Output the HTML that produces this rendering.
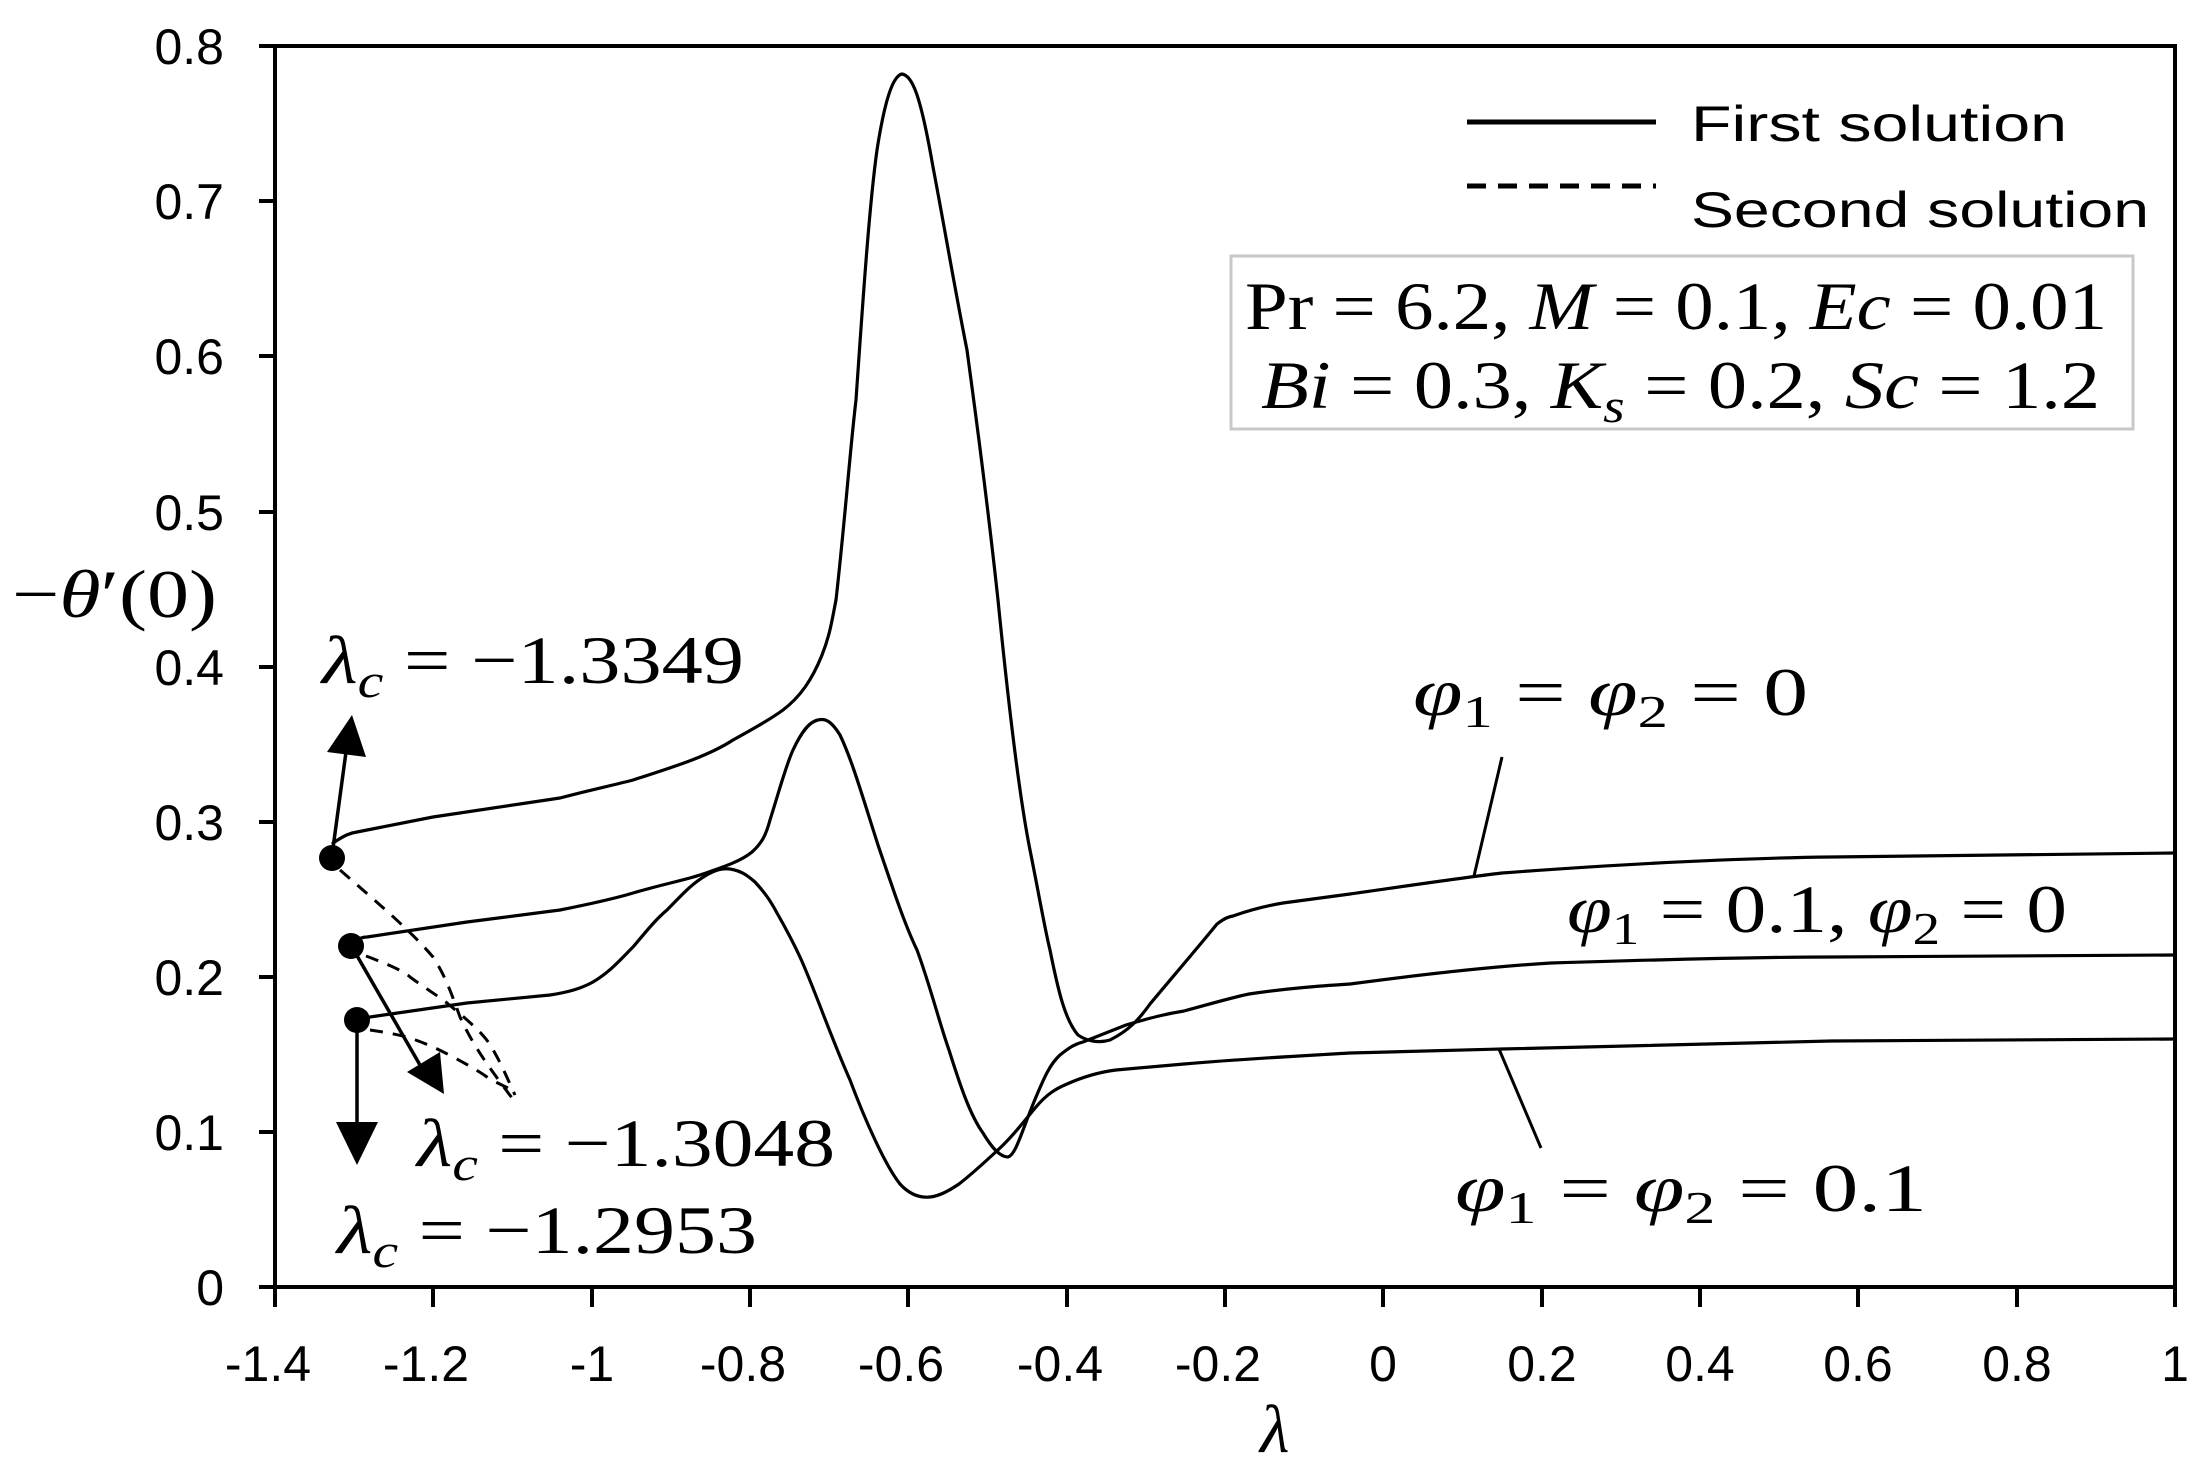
<!DOCTYPE html>
<html><head><meta charset="utf-8"><style>
html,body{margin:0;padding:0;background:#fff;}
svg{display:block;}
.t{font-family:"Liberation Sans",sans-serif;font-size:50px;fill:#000;}
.m{font-family:"Liberation Serif","DejaVu Serif",serif;font-size:68px;fill:#000;}
</style></head><body>
<svg width="2208" height="1479" viewBox="0 0 2208 1479" xmlns="http://www.w3.org/2000/svg">
<rect x="0" y="0" width="2208" height="1479" fill="#fff"/>
<rect x="275" y="46" width="1900" height="1241" fill="none" stroke="#000" stroke-width="4"/>
<g stroke="#000" stroke-width="4">
<line x1="259" y1="46" x2="275" y2="46"/><line x1="259" y1="201" x2="275" y2="201"/>
<line x1="259" y1="356" x2="275" y2="356"/><line x1="259" y1="512" x2="275" y2="512"/>
<line x1="259" y1="667" x2="275" y2="667"/><line x1="259" y1="822" x2="275" y2="822"/>
<line x1="259" y1="977" x2="275" y2="977"/><line x1="259" y1="1132" x2="275" y2="1132"/>
<line x1="259" y1="1287" x2="275" y2="1287"/>
</g>
<g class="t" text-anchor="end">
<text x="224" y="64">0.8</text><text x="224" y="219">0.7</text><text x="224" y="374">0.6</text>
<text x="224" y="530">0.5</text><text x="224" y="685">0.4</text><text x="224" y="840">0.3</text>
<text x="224" y="995">0.2</text><text x="224" y="1150">0.1</text><text x="224" y="1305">0</text>
</g>
<g stroke="#000" stroke-width="4">
<line x1="275" y1="1287" x2="275" y2="1307"/><line x1="433" y1="1287" x2="433" y2="1307"/>
<line x1="592" y1="1287" x2="592" y2="1307"/><line x1="750" y1="1287" x2="750" y2="1307"/>
<line x1="908" y1="1287" x2="908" y2="1307"/><line x1="1067" y1="1287" x2="1067" y2="1307"/>
<line x1="1225" y1="1287" x2="1225" y2="1307"/><line x1="1383" y1="1287" x2="1383" y2="1307"/>
<line x1="1542" y1="1287" x2="1542" y2="1307"/><line x1="1700" y1="1287" x2="1700" y2="1307"/>
<line x1="1858" y1="1287" x2="1858" y2="1307"/><line x1="2017" y1="1287" x2="2017" y2="1307"/>
<line x1="2175" y1="1287" x2="2175" y2="1307"/>
</g>
<g class="t" text-anchor="middle">
<text x="268" y="1381">-1.4</text><text x="426" y="1381">-1.2</text><text x="592" y="1381">-1</text>
<text x="743" y="1381">-0.8</text><text x="901" y="1381">-0.6</text><text x="1060" y="1381">-0.4</text>
<text x="1218" y="1381">-0.2</text><text x="1383" y="1381">0</text><text x="1542" y="1381">0.2</text>
<text x="1700" y="1381">0.4</text><text x="1858" y="1381">0.6</text><text x="2017" y="1381">0.8</text>
<text x="2175" y="1381">1</text>
</g>
<text class="m" x="1260" y="1452" font-style="italic">λ</text>
<text class="m" x="12" y="617" textLength="205" lengthAdjust="spacingAndGlyphs">−<tspan font-style="italic">θ</tspan>′(0)</text>

<g fill="none" stroke="#000" stroke-width="3.2" stroke-linejoin="round" stroke-linecap="round">
<path d="M333,843 C345,835 350,833 357,832 L433,817 L560,798 C590,790 610,786 633,780 C680,765 710,755 733,740 C760,725 772,718 783,710 C800,697 812,680 822,655 C830,635 832,620 836,600 C845,520 850,450 856,400 C864,283 870,200 877,150 C884,105 892,76 902,74 C912,76 920,92 933,167 C945,230 955,290 967,350 C975,410 985,480 998,600 C1010,720 1020,800 1030,850 C1040,900 1045,930 1050,950 C1058,990 1065,1020 1078,1035 C1088,1042 1100,1043 1110,1040 C1130,1030 1140,1018 1150,1004 C1170,980 1200,945 1217,924 C1225,918 1228,917 1233,916 C1250,910 1265,906 1283,903 L1350,894 C1420,884 1460,878 1502,873 C1650,862 1750,858 1831,857 L2175,853"/>
<path d="M351,943 C360,938 363,937 367,937 L467,922 L560,910 C600,902 620,897 633,893 C660,885 685,880 700,875 C720,868 740,862 752,852 C762,843 766,835 770,820 C778,795 786,765 793,750 C800,735 808,722 818,720 C826,718 832,722 840,735 C852,760 862,795 878,845 C895,895 905,925 917,950 C930,985 940,1025 949,1050 C960,1085 970,1115 983,1133 C992,1148 1000,1157 1008,1157 C1016,1155 1022,1130 1036,1097 C1044,1078 1050,1064 1060,1055 C1070,1047 1075,1044 1083,1042 L1126,1025 C1150,1018 1165,1014 1184,1011 C1210,1004 1230,998 1249,994 C1290,988 1320,986 1350,984 C1440,972 1500,966 1551,963 C1680,959 1760,957 1831,957 L2175,955"/>
<path d="M357,1020 C362,1018 365,1017 370,1017 L467,1003 L550,995 C570,992 582,988 593,982 C610,972 620,960 633,947 C645,933 655,920 667,910 C680,897 690,885 705,876 C715,870 722,868 730,869 C742,871 748,876 755,882 C765,893 770,900 777,913 C785,927 793,942 800,957 C815,990 830,1035 850,1080 C865,1120 885,1165 900,1184 C910,1195 920,1198 930,1197 C940,1196 950,1190 959,1184 C972,1174 985,1162 1000,1148 C1015,1134 1025,1120 1036,1107 C1046,1095 1055,1089 1067,1084 C1085,1076 1100,1072 1116,1070 L1184,1064 C1240,1059 1300,1056 1350,1053 C1420,1051 1460,1050 1502,1049 C1650,1045 1750,1042 1831,1041 L2175,1039"/>
</g>
<g fill="none" stroke="#000" stroke-width="3" stroke-dasharray="13,10">
<path d="M340,870 C380,905 410,930 433,957 C445,975 452,995 460,1017 C475,1050 495,1075 515,1102"/>
<path d="M366,956 C390,965 405,972 410,977 C425,988 438,996 447,1003 C470,1022 485,1035 492,1048 C502,1065 508,1080 515,1095"/>
<path d="M370,1030 C390,1033 400,1035 410,1038 C430,1045 440,1050 453,1057 C470,1066 480,1072 487,1077 C495,1082 502,1085 508,1088"/>
</g>
<g fill="#000">
<circle cx="332" cy="858" r="13"/>
<circle cx="351" cy="946" r="13"/>
<circle cx="357" cy="1020" r="13"/>
</g>
<g stroke="#000" stroke-width="3.5" fill="none">
<line x1="333" y1="848" x2="346" y2="752"/>
<line x1="356" y1="954" x2="420" y2="1065"/>
<line x1="357" y1="1030" x2="357" y2="1130"/>
</g>
<g fill="#000">
<polygon points="352,715 327,752 366,757"/>
<polygon points="444,1094 407,1072 440,1052"/>
<polygon points="357,1165 336,1122 378,1122"/>
</g>
<g class="m">
<text x="322" y="683" textLength="422" lengthAdjust="spacingAndGlyphs"><tspan font-style="italic">λ</tspan><tspan font-style="italic" font-size="48" dy="14">c</tspan><tspan dy="-14"> = −1.3349</tspan></text>
<text x="417" y="1166" textLength="418" lengthAdjust="spacingAndGlyphs"><tspan font-style="italic">λ</tspan><tspan font-style="italic" font-size="48" dy="14">c</tspan><tspan dy="-14"> = −1.3048</tspan></text>
<text x="337" y="1253" textLength="420" lengthAdjust="spacingAndGlyphs"><tspan font-style="italic">λ</tspan><tspan font-style="italic" font-size="48" dy="14">c</tspan><tspan dy="-14"> = −1.2953</tspan></text>
</g>
<g class="m">
<text x="1413" y="715" textLength="395" lengthAdjust="spacingAndGlyphs"><tspan font-style="italic">φ</tspan><tspan font-size="46" dy="12">1</tspan><tspan dy="-12"> = </tspan><tspan font-style="italic">φ</tspan><tspan font-size="46" dy="12">2</tspan><tspan dy="-12"> = 0</tspan></text>
<text x="1567" y="932" textLength="500" lengthAdjust="spacingAndGlyphs"><tspan font-style="italic">φ</tspan><tspan font-size="46" dy="12">1</tspan><tspan dy="-12"> = 0.1, </tspan><tspan font-style="italic">φ</tspan><tspan font-size="46" dy="12">2</tspan><tspan dy="-12"> = 0</tspan></text>
<text x="1455" y="1211" textLength="472" lengthAdjust="spacingAndGlyphs"><tspan font-style="italic">φ</tspan><tspan font-size="46" dy="12">1</tspan><tspan dy="-12"> = </tspan><tspan font-style="italic">φ</tspan><tspan font-size="46" dy="12">2</tspan><tspan dy="-12"> = 0.1</tspan></text>
</g>
<g stroke="#000" stroke-width="3">
<line x1="1502" y1="757" x2="1474" y2="876"/>
<line x1="1499" y1="1049" x2="1541" y2="1148"/>
</g>
<line x1="1467" y1="122" x2="1656" y2="122" stroke="#000" stroke-width="5"/>
<line x1="1467" y1="186" x2="1656" y2="186" stroke="#000" stroke-width="5" stroke-dasharray="19,12"/>
<text class="t" x="1691" y="141" font-size="58" textLength="376" lengthAdjust="spacingAndGlyphs">First solution</text>
<text class="t" x="1691" y="227" font-size="58" textLength="458" lengthAdjust="spacingAndGlyphs">Second solution</text>
<rect x="1231" y="256" width="902" height="173" fill="#fff" stroke="#c8c8c8" stroke-width="3"/>
<text class="m" x="1245" y="329" textLength="862" lengthAdjust="spacingAndGlyphs">Pr = 6.2, <tspan font-style="italic">M</tspan> = 0.1, <tspan font-style="italic">Ec</tspan> = 0.01</text>
<text class="m" x="1261" y="408" textLength="839" lengthAdjust="spacingAndGlyphs"><tspan font-style="italic">Bi</tspan> = 0.3, <tspan font-style="italic">K</tspan><tspan font-style="italic" font-size="48" dy="14">s</tspan><tspan dy="-14"> = 0.2, </tspan><tspan font-style="italic">Sc</tspan> = 1.2</text>
</svg>
</body></html>
